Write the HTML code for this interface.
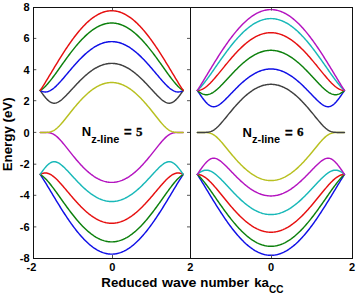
<!DOCTYPE html>
<html><head><meta charset="utf-8"><style>
html,body{margin:0;padding:0;background:#fff;}
svg{display:block;}
text{font-family:"Liberation Sans",sans-serif;font-weight:bold;fill:#000;}
</style></head><body>
<svg width="357" height="297" viewBox="0 0 357 297">
<rect width="357" height="297" fill="#fff"/>
<g fill="none" stroke-width="1.45" stroke-linejoin="round" stroke-linecap="round">
<polyline points="40.20,174.43 40.99,175.63 41.79,176.85 42.58,178.08 43.38,179.34 44.17,180.61 44.97,181.89 45.76,183.18 46.56,184.48 47.35,185.79 48.14,187.10 48.94,188.41 49.73,189.73 50.53,191.06 51.32,192.38 52.12,193.70 52.91,195.02 53.71,196.34 54.50,197.66 55.29,198.98 56.09,200.29 56.88,201.59 57.68,202.89 58.47,204.18 59.27,205.47 60.06,206.75 60.86,208.02 61.65,209.28 62.44,210.53 63.24,211.78 64.03,213.01 64.83,214.23 65.62,215.44 66.42,216.64 67.21,217.83 68.01,219.00 68.80,220.16 69.59,221.31 70.39,222.44 71.18,223.56 71.98,224.66 72.77,225.75 73.57,226.82 74.36,227.88 75.16,228.92 75.95,229.94 76.74,230.95 77.54,231.93 78.33,232.90 79.13,233.86 79.92,234.79 80.72,235.70 81.51,236.60 82.31,237.48 83.10,238.33 83.89,239.17 84.69,239.99 85.48,240.78 86.28,241.56 87.07,242.31 87.87,243.04 88.66,243.75 89.46,244.44 90.25,245.11 91.04,245.75 91.84,246.37 92.63,246.97 93.43,247.55 94.22,248.10 95.02,248.63 95.81,249.13 96.61,249.62 97.40,250.08 98.19,250.51 98.99,250.92 99.78,251.31 100.58,251.67 101.37,252.01 102.17,252.32 102.96,252.61 103.76,252.87 104.55,253.11 105.34,253.32 106.14,253.51 106.93,253.68 107.73,253.82 108.52,253.93 109.32,254.02 110.11,254.08 110.91,254.12 111.70,254.13 112.49,254.12 113.29,254.08 114.08,254.02 114.88,253.93 115.67,253.82 116.47,253.68 117.26,253.51 118.06,253.32 118.85,253.11 119.64,252.87 120.44,252.61 121.23,252.32 122.03,252.01 122.82,251.67 123.62,251.31 124.41,250.92 125.21,250.51 126.00,250.08 126.79,249.62 127.59,249.13 128.38,248.63 129.18,248.10 129.97,247.55 130.77,246.97 131.56,246.37 132.36,245.75 133.15,245.11 133.94,244.44 134.74,243.75 135.53,243.04 136.33,242.31 137.12,241.56 137.92,240.78 138.71,239.99 139.51,239.17 140.30,238.33 141.09,237.48 141.89,236.60 142.68,235.70 143.48,234.79 144.27,233.86 145.07,232.90 145.86,231.93 146.66,230.95 147.45,229.94 148.24,228.92 149.04,227.88 149.83,226.82 150.63,225.75 151.42,224.66 152.22,223.56 153.01,222.44 153.81,221.31 154.60,220.16 155.39,219.00 156.19,217.83 156.98,216.64 157.78,215.44 158.57,214.23 159.37,213.01 160.16,211.78 160.96,210.53 161.75,209.28 162.54,208.02 163.34,206.75 164.13,205.47 164.93,204.18 165.72,202.89 166.52,201.59 167.31,200.29 168.11,198.98 168.90,197.66 169.69,196.34 170.49,195.02 171.28,193.70 172.08,192.38 172.87,191.06 173.67,189.73 174.46,188.41 175.26,187.10 176.05,185.79 176.84,184.48 177.64,183.18 178.43,181.89 179.23,180.61 180.02,179.34 180.82,178.08 181.61,176.85 182.41,175.63 183.20,174.43" stroke="#1010e6"/>
<polyline points="40.20,174.43 40.99,174.91 41.79,175.46 42.58,176.07 43.38,176.72 44.17,177.43 44.97,178.19 45.76,178.99 46.56,179.83 47.35,180.71 48.14,181.62 48.94,182.56 49.73,183.53 50.53,184.52 51.32,185.53 52.12,186.57 52.91,187.62 53.71,188.68 54.50,189.76 55.29,190.84 56.09,191.94 56.88,193.04 57.68,194.15 58.47,195.27 59.27,196.39 60.06,197.50 60.86,198.62 61.65,199.74 62.44,200.86 63.24,201.97 64.03,203.08 64.83,204.19 65.62,205.29 66.42,206.38 67.21,207.47 68.01,208.54 68.80,209.61 69.59,210.67 70.39,211.72 71.18,212.76 71.98,213.79 72.77,214.81 73.57,215.81 74.36,216.80 75.16,217.78 75.95,218.74 76.74,219.69 77.54,220.62 78.33,221.54 79.13,222.44 79.92,223.33 80.72,224.19 81.51,225.05 82.31,225.88 83.10,226.70 83.89,227.49 84.69,228.27 85.48,229.03 86.28,229.77 87.07,230.49 87.87,231.20 88.66,231.88 89.46,232.54 90.25,233.18 91.04,233.80 91.84,234.39 92.63,234.97 93.43,235.52 94.22,236.05 95.02,236.56 95.81,237.05 96.61,237.52 97.40,237.96 98.19,238.38 98.99,238.78 99.78,239.15 100.58,239.50 101.37,239.82 102.17,240.13 102.96,240.40 103.76,240.66 104.55,240.89 105.34,241.10 106.14,241.28 106.93,241.44 107.73,241.57 108.52,241.68 109.32,241.77 110.11,241.83 110.91,241.86 111.70,241.88 112.49,241.86 113.29,241.83 114.08,241.77 114.88,241.68 115.67,241.57 116.47,241.44 117.26,241.28 118.06,241.10 118.85,240.89 119.64,240.66 120.44,240.40 121.23,240.13 122.03,239.82 122.82,239.50 123.62,239.15 124.41,238.78 125.21,238.38 126.00,237.96 126.79,237.52 127.59,237.05 128.38,236.56 129.18,236.05 129.97,235.52 130.77,234.97 131.56,234.39 132.36,233.80 133.15,233.18 133.94,232.54 134.74,231.88 135.53,231.20 136.33,230.49 137.12,229.77 137.92,229.03 138.71,228.27 139.51,227.49 140.30,226.70 141.09,225.88 141.89,225.05 142.68,224.19 143.48,223.33 144.27,222.44 145.07,221.54 145.86,220.62 146.66,219.69 147.45,218.74 148.24,217.78 149.04,216.80 149.83,215.81 150.63,214.81 151.42,213.79 152.22,212.76 153.01,211.72 153.81,210.67 154.60,209.61 155.39,208.54 156.19,207.47 156.98,206.38 157.78,205.29 158.57,204.19 159.37,203.08 160.16,201.97 160.96,200.86 161.75,199.74 162.54,198.62 163.34,197.50 164.13,196.39 164.93,195.27 165.72,194.15 166.52,193.04 167.31,191.94 168.11,190.84 168.90,189.76 169.69,188.68 170.49,187.62 171.28,186.57 172.08,185.53 172.87,184.52 173.67,183.53 174.46,182.56 175.26,181.62 176.05,180.71 176.84,179.83 177.64,178.99 178.43,178.19 179.23,177.43 180.02,176.72 180.82,176.07 181.61,175.46 182.41,174.91 183.20,174.43" stroke="#0c800c"/>
<polyline points="40.20,174.43 40.99,174.01 41.79,173.66 42.58,173.37 43.38,173.16 44.17,173.03 44.97,172.96 45.76,172.97 46.56,173.05 47.35,173.21 48.14,173.43 48.94,173.72 49.73,174.08 50.53,174.49 51.32,174.97 52.12,175.49 52.91,176.07 53.71,176.69 54.50,177.35 55.29,178.06 56.09,178.79 56.88,179.56 57.68,180.36 58.47,181.19 59.27,182.03 60.06,182.90 60.86,183.78 61.65,184.67 62.44,185.58 63.24,186.50 64.03,187.43 64.83,188.37 65.62,189.31 66.42,190.25 67.21,191.19 68.01,192.14 68.80,193.08 69.59,194.02 70.39,194.96 71.18,195.90 71.98,196.82 72.77,197.75 73.57,198.66 74.36,199.57 75.16,200.46 75.95,201.35 76.74,202.23 77.54,203.09 78.33,203.95 79.13,204.79 79.92,205.61 80.72,206.43 81.51,207.23 82.31,208.01 83.10,208.78 83.89,209.53 84.69,210.27 85.48,210.99 86.28,211.69 87.07,212.38 87.87,213.04 88.66,213.69 89.46,214.32 90.25,214.93 91.04,215.52 91.84,216.09 92.63,216.64 93.43,217.17 94.22,217.68 95.02,218.17 95.81,218.64 96.61,219.08 97.40,219.51 98.19,219.91 98.99,220.29 99.78,220.65 100.58,220.99 101.37,221.30 102.17,221.59 102.96,221.86 103.76,222.10 104.55,222.33 105.34,222.52 106.14,222.70 106.93,222.85 107.73,222.98 108.52,223.09 109.32,223.17 110.11,223.23 110.91,223.27 111.70,223.28 112.49,223.27 113.29,223.23 114.08,223.17 114.88,223.09 115.67,222.98 116.47,222.85 117.26,222.70 118.06,222.52 118.85,222.33 119.64,222.10 120.44,221.86 121.23,221.59 122.03,221.30 122.82,220.99 123.62,220.65 124.41,220.29 125.21,219.91 126.00,219.51 126.79,219.08 127.59,218.64 128.38,218.17 129.18,217.68 129.97,217.17 130.77,216.64 131.56,216.09 132.36,215.52 133.15,214.93 133.94,214.32 134.74,213.69 135.53,213.04 136.33,212.38 137.12,211.69 137.92,210.99 138.71,210.27 139.51,209.53 140.30,208.78 141.09,208.01 141.89,207.23 142.68,206.43 143.48,205.61 144.27,204.79 145.07,203.95 145.86,203.09 146.66,202.23 147.45,201.35 148.24,200.46 149.04,199.57 149.83,198.66 150.63,197.75 151.42,196.82 152.22,195.90 153.01,194.96 153.81,194.02 154.60,193.08 155.39,192.14 156.19,191.19 156.98,190.25 157.78,189.31 158.57,188.37 159.37,187.43 160.16,186.50 160.96,185.58 161.75,184.67 162.54,183.78 163.34,182.90 164.13,182.03 164.93,181.19 165.72,180.36 166.52,179.56 167.31,178.79 168.11,178.06 168.90,177.35 169.69,176.69 170.49,176.07 171.28,175.49 172.08,174.97 172.87,174.49 173.67,174.08 174.46,173.72 175.26,173.43 176.05,173.21 176.84,173.05 177.64,172.97 178.43,172.96 179.23,173.03 180.02,173.16 180.82,173.37 181.61,173.66 182.41,174.01 183.20,174.43" stroke="#e61010"/>
<polyline points="40.20,174.43 40.99,173.26 41.79,172.11 42.58,171.00 43.38,169.92 44.17,168.89 44.97,167.90 45.76,166.96 46.56,166.08 47.35,165.26 48.14,164.52 48.94,163.85 49.73,163.26 50.53,162.76 51.32,162.35 52.12,162.05 52.91,161.83 53.71,161.72 54.50,161.71 55.29,161.79 56.09,161.96 56.88,162.22 57.68,162.56 58.47,162.96 59.27,163.44 60.06,163.97 60.86,164.56 61.65,165.20 62.44,165.87 63.24,166.59 64.03,167.33 64.83,168.10 65.62,168.89 66.42,169.70 67.21,170.53 68.01,171.37 68.80,172.22 69.59,173.07 70.39,173.94 71.18,174.80 71.98,175.67 72.77,176.53 73.57,177.40 74.36,178.26 75.16,179.11 75.95,179.96 76.74,180.81 77.54,181.64 78.33,182.47 79.13,183.28 79.92,184.09 80.72,184.88 81.51,185.66 82.31,186.43 83.10,187.18 83.89,187.92 84.69,188.64 85.48,189.35 86.28,190.04 87.07,190.71 87.87,191.37 88.66,192.01 89.46,192.63 90.25,193.23 91.04,193.82 91.84,194.38 92.63,194.93 93.43,195.45 94.22,195.96 95.02,196.44 95.81,196.91 96.61,197.35 97.40,197.77 98.19,198.17 98.99,198.55 99.78,198.90 100.58,199.24 101.37,199.55 102.17,199.84 102.96,200.11 103.76,200.35 104.55,200.57 105.34,200.77 106.14,200.95 106.93,201.10 107.73,201.23 108.52,201.33 109.32,201.41 110.11,201.47 110.91,201.51 111.70,201.52 112.49,201.51 113.29,201.47 114.08,201.41 114.88,201.33 115.67,201.23 116.47,201.10 117.26,200.95 118.06,200.77 118.85,200.57 119.64,200.35 120.44,200.11 121.23,199.84 122.03,199.55 122.82,199.24 123.62,198.90 124.41,198.55 125.21,198.17 126.00,197.77 126.79,197.35 127.59,196.91 128.38,196.44 129.18,195.96 129.97,195.45 130.77,194.93 131.56,194.38 132.36,193.82 133.15,193.23 133.94,192.63 134.74,192.01 135.53,191.37 136.33,190.71 137.12,190.04 137.92,189.35 138.71,188.64 139.51,187.92 140.30,187.18 141.09,186.43 141.89,185.66 142.68,184.88 143.48,184.09 144.27,183.28 145.07,182.47 145.86,181.64 146.66,180.81 147.45,179.96 148.24,179.11 149.04,178.26 149.83,177.40 150.63,176.53 151.42,175.67 152.22,174.80 153.01,173.94 153.81,173.07 154.60,172.22 155.39,171.37 156.19,170.53 156.98,169.70 157.78,168.89 158.57,168.10 159.37,167.33 160.16,166.59 160.96,165.87 161.75,165.20 162.54,164.56 163.34,163.97 164.13,163.44 164.93,162.96 165.72,162.56 166.52,162.22 167.31,161.96 168.11,161.79 168.90,161.71 169.69,161.72 170.49,161.83 171.28,162.05 172.08,162.35 172.87,162.76 173.67,163.26 174.46,163.85 175.26,164.52 176.05,165.26 176.84,166.08 177.64,166.96 178.43,167.90 179.23,168.89 180.02,169.92 180.82,171.00 181.61,172.11 182.41,173.26 183.20,174.43" stroke="#18b8b8"/>
<polyline points="40.20,132.45 40.99,132.45 41.79,132.45 42.58,132.45 43.38,132.45 44.17,132.46 44.97,132.47 45.76,132.48 46.56,132.51 47.35,132.56 48.14,132.64 48.94,132.74 49.73,132.88 50.53,133.07 51.32,133.30 52.12,133.60 52.91,133.95 53.71,134.37 54.50,134.84 55.29,135.39 56.09,135.99 56.88,136.65 57.68,137.36 58.47,138.12 59.27,138.92 60.06,139.77 60.86,140.64 61.65,141.55 62.44,142.48 63.24,143.43 64.03,144.40 64.83,145.38 65.62,146.37 66.42,147.37 67.21,148.37 68.01,149.38 68.80,150.39 69.59,151.39 70.39,152.40 71.18,153.40 71.98,154.39 72.77,155.38 73.57,156.35 74.36,157.32 75.16,158.28 75.95,159.23 76.74,160.17 77.54,161.09 78.33,162.00 79.13,162.89 79.92,163.77 80.72,164.64 81.51,165.49 82.31,166.32 83.10,167.14 83.89,167.93 84.69,168.71 85.48,169.47 86.28,170.22 87.07,170.94 87.87,171.64 88.66,172.33 89.46,172.99 90.25,173.63 91.04,174.26 91.84,174.86 92.63,175.44 93.43,175.99 94.22,176.53 95.02,177.04 95.81,177.53 96.61,178.00 97.40,178.45 98.19,178.87 98.99,179.27 99.78,179.65 100.58,180.00 101.37,180.33 102.17,180.63 102.96,180.91 103.76,181.17 104.55,181.40 105.34,181.61 106.14,181.79 106.93,181.95 107.73,182.09 108.52,182.20 109.32,182.29 110.11,182.35 110.91,182.38 111.70,182.40 112.49,182.38 113.29,182.35 114.08,182.29 114.88,182.20 115.67,182.09 116.47,181.95 117.26,181.79 118.06,181.61 118.85,181.40 119.64,181.17 120.44,180.91 121.23,180.63 122.03,180.33 122.82,180.00 123.62,179.65 124.41,179.27 125.21,178.87 126.00,178.45 126.79,178.00 127.59,177.53 128.38,177.04 129.18,176.53 129.97,175.99 130.77,175.44 131.56,174.86 132.36,174.26 133.15,173.63 133.94,172.99 134.74,172.33 135.53,171.64 136.33,170.94 137.12,170.22 137.92,169.47 138.71,168.71 139.51,167.93 140.30,167.14 141.09,166.32 141.89,165.49 142.68,164.64 143.48,163.77 144.27,162.89 145.07,162.00 145.86,161.09 146.66,160.17 147.45,159.23 148.24,158.28 149.04,157.32 149.83,156.35 150.63,155.38 151.42,154.39 152.22,153.40 153.01,152.40 153.81,151.39 154.60,150.39 155.39,149.38 156.19,148.37 156.98,147.37 157.78,146.37 158.57,145.38 159.37,144.40 160.16,143.43 160.96,142.48 161.75,141.55 162.54,140.64 163.34,139.77 164.13,138.92 164.93,138.12 165.72,137.36 166.52,136.65 167.31,135.99 168.11,135.39 168.90,134.84 169.69,134.37 170.49,133.95 171.28,133.60 172.08,133.30 172.87,133.07 173.67,132.88 174.46,132.74 175.26,132.64 176.05,132.56 176.84,132.51 177.64,132.48 178.43,132.47 179.23,132.46 180.02,132.45 180.82,132.45 181.61,132.45 182.41,132.45 183.20,132.45" stroke="#b414c0"/>
<polyline points="40.20,132.45 40.99,132.45 41.79,132.45 42.58,132.45 43.38,132.45 44.17,132.44 44.97,132.43 45.76,132.42 46.56,132.39 47.35,132.34 48.14,132.26 48.94,132.16 49.73,132.02 50.53,131.83 51.32,131.60 52.12,131.30 52.91,130.95 53.71,130.53 54.50,130.06 55.29,129.51 56.09,128.91 56.88,128.25 57.68,127.54 58.47,126.78 59.27,125.98 60.06,125.13 60.86,124.26 61.65,123.35 62.44,122.42 63.24,121.47 64.03,120.50 64.83,119.52 65.62,118.53 66.42,117.53 67.21,116.53 68.01,115.52 68.80,114.51 69.59,113.51 70.39,112.50 71.18,111.50 71.98,110.51 72.77,109.52 73.57,108.55 74.36,107.58 75.16,106.62 75.95,105.67 76.74,104.73 77.54,103.81 78.33,102.90 79.13,102.01 79.92,101.13 80.72,100.26 81.51,99.41 82.31,98.58 83.10,97.76 83.89,96.97 84.69,96.19 85.48,95.43 86.28,94.68 87.07,93.96 87.87,93.26 88.66,92.57 89.46,91.91 90.25,91.27 91.04,90.64 91.84,90.04 92.63,89.46 93.43,88.91 94.22,88.37 95.02,87.86 95.81,87.37 96.61,86.90 97.40,86.45 98.19,86.03 98.99,85.63 99.78,85.25 100.58,84.90 101.37,84.57 102.17,84.27 102.96,83.99 103.76,83.73 104.55,83.50 105.34,83.29 106.14,83.11 106.93,82.95 107.73,82.81 108.52,82.70 109.32,82.61 110.11,82.55 110.91,82.52 111.70,82.50 112.49,82.52 113.29,82.55 114.08,82.61 114.88,82.70 115.67,82.81 116.47,82.95 117.26,83.11 118.06,83.29 118.85,83.50 119.64,83.73 120.44,83.99 121.23,84.27 122.03,84.57 122.82,84.90 123.62,85.25 124.41,85.63 125.21,86.03 126.00,86.45 126.79,86.90 127.59,87.37 128.38,87.86 129.18,88.37 129.97,88.91 130.77,89.46 131.56,90.04 132.36,90.64 133.15,91.27 133.94,91.91 134.74,92.57 135.53,93.26 136.33,93.96 137.12,94.68 137.92,95.43 138.71,96.19 139.51,96.97 140.30,97.76 141.09,98.58 141.89,99.41 142.68,100.26 143.48,101.13 144.27,102.01 145.07,102.90 145.86,103.81 146.66,104.73 147.45,105.67 148.24,106.62 149.04,107.58 149.83,108.55 150.63,109.52 151.42,110.51 152.22,111.50 153.01,112.50 153.81,113.51 154.60,114.51 155.39,115.52 156.19,116.53 156.98,117.53 157.78,118.53 158.57,119.52 159.37,120.50 160.16,121.47 160.96,122.42 161.75,123.35 162.54,124.26 163.34,125.13 164.13,125.98 164.93,126.78 165.72,127.54 166.52,128.25 167.31,128.91 168.11,129.51 168.90,130.06 169.69,130.53 170.49,130.95 171.28,131.30 172.08,131.60 172.87,131.83 173.67,132.02 174.46,132.16 175.26,132.26 176.05,132.34 176.84,132.39 177.64,132.42 178.43,132.43 179.23,132.44 180.02,132.45 180.82,132.45 181.61,132.45 182.41,132.45 183.20,132.45" stroke="#b8c020"/>
<polyline points="40.20,90.47 40.99,91.64 41.79,92.79 42.58,93.90 43.38,94.98 44.17,96.01 44.97,97.00 45.76,97.94 46.56,98.82 47.35,99.64 48.14,100.38 48.94,101.05 49.73,101.64 50.53,102.14 51.32,102.55 52.12,102.85 52.91,103.07 53.71,103.18 54.50,103.19 55.29,103.11 56.09,102.94 56.88,102.68 57.68,102.34 58.47,101.94 59.27,101.46 60.06,100.93 60.86,100.34 61.65,99.70 62.44,99.03 63.24,98.31 64.03,97.57 64.83,96.80 65.62,96.01 66.42,95.20 67.21,94.37 68.01,93.53 68.80,92.68 69.59,91.83 70.39,90.96 71.18,90.10 71.98,89.23 72.77,88.37 73.57,87.50 74.36,86.64 75.16,85.79 75.95,84.94 76.74,84.09 77.54,83.26 78.33,82.43 79.13,81.62 79.92,80.81 80.72,80.02 81.51,79.24 82.31,78.47 83.10,77.72 83.89,76.98 84.69,76.26 85.48,75.55 86.28,74.86 87.07,74.19 87.87,73.53 88.66,72.89 89.46,72.27 90.25,71.67 91.04,71.08 91.84,70.52 92.63,69.97 93.43,69.45 94.22,68.94 95.02,68.46 95.81,67.99 96.61,67.55 97.40,67.13 98.19,66.73 98.99,66.35 99.78,66.00 100.58,65.66 101.37,65.35 102.17,65.06 102.96,64.79 103.76,64.55 104.55,64.33 105.34,64.13 106.14,63.95 106.93,63.80 107.73,63.67 108.52,63.57 109.32,63.49 110.11,63.43 110.91,63.39 111.70,63.38 112.49,63.39 113.29,63.43 114.08,63.49 114.88,63.57 115.67,63.67 116.47,63.80 117.26,63.95 118.06,64.13 118.85,64.33 119.64,64.55 120.44,64.79 121.23,65.06 122.03,65.35 122.82,65.66 123.62,66.00 124.41,66.35 125.21,66.73 126.00,67.13 126.79,67.55 127.59,67.99 128.38,68.46 129.18,68.94 129.97,69.45 130.77,69.97 131.56,70.52 132.36,71.08 133.15,71.67 133.94,72.27 134.74,72.89 135.53,73.53 136.33,74.19 137.12,74.86 137.92,75.55 138.71,76.26 139.51,76.98 140.30,77.72 141.09,78.47 141.89,79.24 142.68,80.02 143.48,80.81 144.27,81.62 145.07,82.43 145.86,83.26 146.66,84.09 147.45,84.94 148.24,85.79 149.04,86.64 149.83,87.50 150.63,88.37 151.42,89.23 152.22,90.10 153.01,90.96 153.81,91.83 154.60,92.68 155.39,93.53 156.19,94.37 156.98,95.20 157.78,96.01 158.57,96.80 159.37,97.57 160.16,98.31 160.96,99.03 161.75,99.70 162.54,100.34 163.34,100.93 164.13,101.46 164.93,101.94 165.72,102.34 166.52,102.68 167.31,102.94 168.11,103.11 168.90,103.19 169.69,103.18 170.49,103.07 171.28,102.85 172.08,102.55 172.87,102.14 173.67,101.64 174.46,101.05 175.26,100.38 176.05,99.64 176.84,98.82 177.64,97.94 178.43,97.00 179.23,96.01 180.02,94.98 180.82,93.90 181.61,92.79 182.41,91.64 183.20,90.47" stroke="#404040"/>
<polyline points="40.20,90.47 40.99,90.89 41.79,91.24 42.58,91.53 43.38,91.74 44.17,91.87 44.97,91.94 45.76,91.93 46.56,91.85 47.35,91.69 48.14,91.47 48.94,91.18 49.73,90.82 50.53,90.41 51.32,89.93 52.12,89.41 52.91,88.83 53.71,88.21 54.50,87.55 55.29,86.84 56.09,86.11 56.88,85.34 57.68,84.54 58.47,83.71 59.27,82.87 60.06,82.00 60.86,81.12 61.65,80.23 62.44,79.32 63.24,78.40 64.03,77.47 64.83,76.53 65.62,75.59 66.42,74.65 67.21,73.71 68.01,72.76 68.80,71.82 69.59,70.88 70.39,69.94 71.18,69.00 71.98,68.08 72.77,67.15 73.57,66.24 74.36,65.33 75.16,64.44 75.95,63.55 76.74,62.67 77.54,61.81 78.33,60.95 79.13,60.11 79.92,59.29 80.72,58.47 81.51,57.67 82.31,56.89 83.10,56.12 83.89,55.37 84.69,54.63 85.48,53.91 86.28,53.21 87.07,52.52 87.87,51.86 88.66,51.21 89.46,50.58 90.25,49.97 91.04,49.38 91.84,48.81 92.63,48.26 93.43,47.73 94.22,47.22 95.02,46.73 95.81,46.26 96.61,45.82 97.40,45.39 98.19,44.99 98.99,44.61 99.78,44.25 100.58,43.91 101.37,43.60 102.17,43.31 102.96,43.04 103.76,42.80 104.55,42.57 105.34,42.38 106.14,42.20 106.93,42.05 107.73,41.92 108.52,41.81 109.32,41.73 110.11,41.67 110.91,41.63 111.70,41.62 112.49,41.63 113.29,41.67 114.08,41.73 114.88,41.81 115.67,41.92 116.47,42.05 117.26,42.20 118.06,42.38 118.85,42.57 119.64,42.80 120.44,43.04 121.23,43.31 122.03,43.60 122.82,43.91 123.62,44.25 124.41,44.61 125.21,44.99 126.00,45.39 126.79,45.82 127.59,46.26 128.38,46.73 129.18,47.22 129.97,47.73 130.77,48.26 131.56,48.81 132.36,49.38 133.15,49.97 133.94,50.58 134.74,51.21 135.53,51.86 136.33,52.52 137.12,53.21 137.92,53.91 138.71,54.63 139.51,55.37 140.30,56.12 141.09,56.89 141.89,57.67 142.68,58.47 143.48,59.29 144.27,60.11 145.07,60.95 145.86,61.81 146.66,62.67 147.45,63.55 148.24,64.44 149.04,65.33 149.83,66.24 150.63,67.15 151.42,68.08 152.22,69.00 153.01,69.94 153.81,70.88 154.60,71.82 155.39,72.76 156.19,73.71 156.98,74.65 157.78,75.59 158.57,76.53 159.37,77.47 160.16,78.40 160.96,79.32 161.75,80.23 162.54,81.12 163.34,82.00 164.13,82.87 164.93,83.71 165.72,84.54 166.52,85.34 167.31,86.11 168.11,86.84 168.90,87.55 169.69,88.21 170.49,88.83 171.28,89.41 172.08,89.93 172.87,90.41 173.67,90.82 174.46,91.18 175.26,91.47 176.05,91.69 176.84,91.85 177.64,91.93 178.43,91.94 179.23,91.87 180.02,91.74 180.82,91.53 181.61,91.24 182.41,90.89 183.20,90.47" stroke="#1010e6"/>
<polyline points="40.20,90.47 40.99,89.99 41.79,89.44 42.58,88.83 43.38,88.18 44.17,87.47 44.97,86.71 45.76,85.91 46.56,85.07 47.35,84.19 48.14,83.28 48.94,82.34 49.73,81.37 50.53,80.38 51.32,79.37 52.12,78.33 52.91,77.28 53.71,76.22 54.50,75.14 55.29,74.06 56.09,72.96 56.88,71.86 57.68,70.75 58.47,69.63 59.27,68.51 60.06,67.40 60.86,66.28 61.65,65.16 62.44,64.04 63.24,62.93 64.03,61.82 64.83,60.71 65.62,59.61 66.42,58.52 67.21,57.43 68.01,56.36 68.80,55.29 69.59,54.23 70.39,53.18 71.18,52.14 71.98,51.11 72.77,50.09 73.57,49.09 74.36,48.10 75.16,47.12 75.95,46.16 76.74,45.21 77.54,44.28 78.33,43.36 79.13,42.46 79.92,41.57 80.72,40.71 81.51,39.85 82.31,39.02 83.10,38.20 83.89,37.41 84.69,36.63 85.48,35.87 86.28,35.13 87.07,34.41 87.87,33.70 88.66,33.02 89.46,32.36 90.25,31.72 91.04,31.10 91.84,30.51 92.63,29.93 93.43,29.38 94.22,28.85 95.02,28.34 95.81,27.85 96.61,27.38 97.40,26.94 98.19,26.52 98.99,26.12 99.78,25.75 100.58,25.40 101.37,25.08 102.17,24.77 102.96,24.50 103.76,24.24 104.55,24.01 105.34,23.80 106.14,23.62 106.93,23.46 107.73,23.33 108.52,23.22 109.32,23.13 110.11,23.07 110.91,23.04 111.70,23.02 112.49,23.04 113.29,23.07 114.08,23.13 114.88,23.22 115.67,23.33 116.47,23.46 117.26,23.62 118.06,23.80 118.85,24.01 119.64,24.24 120.44,24.50 121.23,24.77 122.03,25.08 122.82,25.40 123.62,25.75 124.41,26.12 125.21,26.52 126.00,26.94 126.79,27.38 127.59,27.85 128.38,28.34 129.18,28.85 129.97,29.38 130.77,29.93 131.56,30.51 132.36,31.10 133.15,31.72 133.94,32.36 134.74,33.02 135.53,33.70 136.33,34.41 137.12,35.13 137.92,35.87 138.71,36.63 139.51,37.41 140.30,38.20 141.09,39.02 141.89,39.85 142.68,40.71 143.48,41.57 144.27,42.46 145.07,43.36 145.86,44.28 146.66,45.21 147.45,46.16 148.24,47.12 149.04,48.10 149.83,49.09 150.63,50.09 151.42,51.11 152.22,52.14 153.01,53.18 153.81,54.23 154.60,55.29 155.39,56.36 156.19,57.43 156.98,58.52 157.78,59.61 158.57,60.71 159.37,61.82 160.16,62.93 160.96,64.04 161.75,65.16 162.54,66.28 163.34,67.40 164.13,68.51 164.93,69.63 165.72,70.75 166.52,71.86 167.31,72.96 168.11,74.06 168.90,75.14 169.69,76.22 170.49,77.28 171.28,78.33 172.08,79.37 172.87,80.38 173.67,81.37 174.46,82.34 175.26,83.28 176.05,84.19 176.84,85.07 177.64,85.91 178.43,86.71 179.23,87.47 180.02,88.18 180.82,88.83 181.61,89.44 182.41,89.99 183.20,90.47" stroke="#0c800c"/>
<polyline points="40.20,90.47 40.99,89.27 41.79,88.05 42.58,86.82 43.38,85.56 44.17,84.29 44.97,83.01 45.76,81.72 46.56,80.42 47.35,79.11 48.14,77.80 48.94,76.49 49.73,75.17 50.53,73.84 51.32,72.52 52.12,71.20 52.91,69.88 53.71,68.56 54.50,67.24 55.29,65.92 56.09,64.61 56.88,63.31 57.68,62.01 58.47,60.72 59.27,59.43 60.06,58.15 60.86,56.88 61.65,55.62 62.44,54.37 63.24,53.12 64.03,51.89 64.83,50.67 65.62,49.46 66.42,48.26 67.21,47.07 68.01,45.90 68.80,44.74 69.59,43.59 70.39,42.46 71.18,41.34 71.98,40.24 72.77,39.15 73.57,38.08 74.36,37.02 75.16,35.98 75.95,34.96 76.74,33.95 77.54,32.97 78.33,32.00 79.13,31.04 79.92,30.11 80.72,29.20 81.51,28.30 82.31,27.42 83.10,26.57 83.89,25.73 84.69,24.91 85.48,24.12 86.28,23.34 87.07,22.59 87.87,21.86 88.66,21.15 89.46,20.46 90.25,19.79 91.04,19.15 91.84,18.53 92.63,17.93 93.43,17.35 94.22,16.80 95.02,16.27 95.81,15.77 96.61,15.28 97.40,14.82 98.19,14.39 98.99,13.98 99.78,13.59 100.58,13.23 101.37,12.89 102.17,12.58 102.96,12.29 103.76,12.03 104.55,11.79 105.34,11.58 106.14,11.39 106.93,11.22 107.73,11.08 108.52,10.97 109.32,10.88 110.11,10.82 110.91,10.78 111.70,10.77 112.49,10.78 113.29,10.82 114.08,10.88 114.88,10.97 115.67,11.08 116.47,11.22 117.26,11.39 118.06,11.58 118.85,11.79 119.64,12.03 120.44,12.29 121.23,12.58 122.03,12.89 122.82,13.23 123.62,13.59 124.41,13.98 125.21,14.39 126.00,14.82 126.79,15.28 127.59,15.77 128.38,16.27 129.18,16.80 129.97,17.35 130.77,17.93 131.56,18.53 132.36,19.15 133.15,19.79 133.94,20.46 134.74,21.15 135.53,21.86 136.33,22.59 137.12,23.34 137.92,24.12 138.71,24.91 139.51,25.73 140.30,26.57 141.09,27.42 141.89,28.30 142.68,29.20 143.48,30.11 144.27,31.04 145.07,32.00 145.86,32.97 146.66,33.95 147.45,34.96 148.24,35.98 149.04,37.02 149.83,38.08 150.63,39.15 151.42,40.24 152.22,41.34 153.01,42.46 153.81,43.59 154.60,44.74 155.39,45.90 156.19,47.07 156.98,48.26 157.78,49.46 158.57,50.67 159.37,51.89 160.16,53.12 160.96,54.37 161.75,55.62 162.54,56.88 163.34,58.15 164.13,59.43 164.93,60.72 165.72,62.01 166.52,63.31 167.31,64.61 168.11,65.92 168.90,67.24 169.69,68.56 170.49,69.88 171.28,71.20 172.08,72.52 172.87,73.84 173.67,75.17 174.46,76.49 175.26,77.80 176.05,79.11 176.84,80.42 177.64,81.72 178.43,83.01 179.23,84.29 180.02,85.56 180.82,86.82 181.61,88.05 182.41,89.27 183.20,90.47" stroke="#e61010"/>
<polyline points="197.35,174.43 198.17,175.71 198.98,177.00 199.80,178.30 200.62,179.62 201.44,180.94 202.25,182.28 203.07,183.61 203.89,184.96 204.71,186.31 205.52,187.66 206.34,189.01 207.16,190.36 207.97,191.71 208.79,193.06 209.61,194.41 210.43,195.76 211.24,197.10 212.06,198.44 212.88,199.78 213.69,201.11 214.51,202.43 215.33,203.74 216.15,205.05 216.96,206.36 217.78,207.65 218.60,208.93 219.42,210.21 220.23,211.47 221.05,212.73 221.87,213.97 222.68,215.20 223.50,216.42 224.32,217.63 225.14,218.83 225.95,220.01 226.77,221.18 227.59,222.33 228.40,223.47 229.22,224.60 230.04,225.71 230.86,226.80 231.67,227.88 232.49,228.94 233.31,229.99 234.13,231.02 234.94,232.03 235.76,233.02 236.58,234.00 237.39,234.95 238.21,235.89 239.03,236.81 239.85,237.71 240.66,238.59 241.48,239.45 242.30,240.29 243.11,241.11 243.93,241.91 244.75,242.68 245.57,243.44 246.38,244.18 247.20,244.89 248.02,245.58 248.84,246.25 249.65,246.89 250.47,247.52 251.29,248.12 252.10,248.70 252.92,249.25 253.74,249.78 254.56,250.29 255.37,250.78 256.19,251.24 257.01,251.67 257.82,252.08 258.64,252.47 259.46,252.83 260.28,253.17 261.09,253.49 261.91,253.78 262.73,254.04 263.55,254.28 264.36,254.49 265.18,254.68 266.00,254.85 266.81,254.99 267.63,255.10 268.45,255.19 269.27,255.25 270.08,255.29 270.90,255.30 271.72,255.29 272.53,255.25 273.35,255.19 274.17,255.10 274.99,254.99 275.80,254.85 276.62,254.68 277.44,254.49 278.25,254.28 279.07,254.04 279.89,253.78 280.71,253.49 281.52,253.17 282.34,252.83 283.16,252.47 283.98,252.08 284.79,251.67 285.61,251.24 286.43,250.78 287.24,250.29 288.06,249.78 288.88,249.25 289.70,248.70 290.51,248.12 291.33,247.52 292.15,246.89 292.96,246.25 293.78,245.58 294.60,244.89 295.42,244.18 296.23,243.44 297.05,242.68 297.87,241.91 298.69,241.11 299.50,240.29 300.32,239.45 301.14,238.59 301.95,237.71 302.77,236.81 303.59,235.89 304.41,234.95 305.22,234.00 306.04,233.02 306.86,232.03 307.67,231.02 308.49,229.99 309.31,228.94 310.13,227.88 310.94,226.80 311.76,225.71 312.58,224.60 313.40,223.47 314.21,222.33 315.03,221.18 315.85,220.01 316.66,218.83 317.48,217.63 318.30,216.42 319.12,215.20 319.93,213.97 320.75,212.73 321.57,211.47 322.38,210.21 323.20,208.93 324.02,207.65 324.84,206.36 325.65,205.05 326.47,203.74 327.29,202.43 328.11,201.11 328.92,199.78 329.74,198.44 330.56,197.10 331.37,195.76 332.19,194.41 333.01,193.06 333.83,191.71 334.64,190.36 335.46,189.01 336.28,187.66 337.09,186.31 337.91,184.96 338.73,183.61 339.55,182.28 340.36,180.94 341.18,179.62 342.00,178.30 342.82,177.00 343.63,175.71 344.45,174.43" stroke="#1010e6"/>
<polyline points="197.35,174.43 198.17,175.19 198.98,175.99 199.80,176.84 200.62,177.73 201.44,178.66 202.25,179.62 203.07,180.60 203.89,181.62 204.71,182.66 205.52,183.73 206.34,184.81 207.16,185.91 207.97,187.02 208.79,188.15 209.61,189.29 210.43,190.44 211.24,191.60 212.06,192.76 212.88,193.93 213.69,195.11 214.51,196.28 215.33,197.46 216.15,198.63 216.96,199.81 217.78,200.98 218.60,202.15 219.42,203.32 220.23,204.48 221.05,205.64 221.87,206.79 222.68,207.94 223.50,209.07 224.32,210.20 225.14,211.32 225.95,212.43 226.77,213.53 227.59,214.61 228.40,215.69 229.22,216.76 230.04,217.81 230.86,218.85 231.67,219.87 232.49,220.88 233.31,221.88 234.13,222.86 234.94,223.83 235.76,224.78 236.58,225.71 237.39,226.63 238.21,227.53 239.03,228.41 239.85,229.27 240.66,230.12 241.48,230.95 242.30,231.76 243.11,232.55 243.93,233.32 244.75,234.07 245.57,234.80 246.38,235.51 247.20,236.20 248.02,236.87 248.84,237.52 249.65,238.14 250.47,238.75 251.29,239.33 252.10,239.89 252.92,240.43 253.74,240.94 254.56,241.44 255.37,241.91 256.19,242.35 257.01,242.78 257.82,243.18 258.64,243.56 259.46,243.91 260.28,244.24 261.09,244.54 261.91,244.82 262.73,245.08 263.55,245.31 264.36,245.52 265.18,245.71 266.00,245.87 266.81,246.00 267.63,246.11 268.45,246.20 269.27,246.26 270.08,246.30 270.90,246.31 271.72,246.30 272.53,246.26 273.35,246.20 274.17,246.11 274.99,246.00 275.80,245.87 276.62,245.71 277.44,245.52 278.25,245.31 279.07,245.08 279.89,244.82 280.71,244.54 281.52,244.24 282.34,243.91 283.16,243.56 283.98,243.18 284.79,242.78 285.61,242.35 286.43,241.91 287.24,241.44 288.06,240.94 288.88,240.43 289.70,239.89 290.51,239.33 291.33,238.75 292.15,238.14 292.96,237.52 293.78,236.87 294.60,236.20 295.42,235.51 296.23,234.80 297.05,234.07 297.87,233.32 298.69,232.55 299.50,231.76 300.32,230.95 301.14,230.12 301.95,229.27 302.77,228.41 303.59,227.53 304.41,226.63 305.22,225.71 306.04,224.78 306.86,223.83 307.67,222.86 308.49,221.88 309.31,220.88 310.13,219.87 310.94,218.85 311.76,217.81 312.58,216.76 313.40,215.69 314.21,214.61 315.03,213.53 315.85,212.43 316.66,211.32 317.48,210.20 318.30,209.07 319.12,207.94 319.93,206.79 320.75,205.64 321.57,204.48 322.38,203.32 323.20,202.15 324.02,200.98 324.84,199.81 325.65,198.63 326.47,197.46 327.29,196.28 328.11,195.11 328.92,193.93 329.74,192.76 330.56,191.60 331.37,190.44 332.19,189.29 333.01,188.15 333.83,187.02 334.64,185.91 335.46,184.81 336.28,183.73 337.09,182.66 337.91,181.62 338.73,180.60 339.55,179.62 340.36,178.66 341.18,177.73 342.00,176.84 342.82,175.99 343.63,175.19 344.45,174.43" stroke="#0c800c"/>
<polyline points="197.35,174.43 198.17,174.46 198.98,174.57 199.80,174.73 200.62,174.97 201.44,175.27 202.25,175.63 203.07,176.05 203.89,176.53 204.71,177.06 205.52,177.64 206.34,178.26 207.16,178.93 207.97,179.65 208.79,180.40 209.61,181.18 210.43,181.99 211.24,182.84 212.06,183.70 212.88,184.60 213.69,185.51 214.51,186.44 215.33,187.38 216.15,188.34 216.96,189.32 217.78,190.30 218.60,191.29 219.42,192.28 220.23,193.28 221.05,194.29 221.87,195.29 222.68,196.30 223.50,197.31 224.32,198.31 225.14,199.32 225.95,200.32 226.77,201.31 227.59,202.30 228.40,203.28 229.22,204.26 230.04,205.22 230.86,206.18 231.67,207.13 232.49,208.07 233.31,208.99 234.13,209.91 234.94,210.81 235.76,211.70 236.58,212.58 237.39,213.44 238.21,214.29 239.03,215.12 239.85,215.94 240.66,216.74 241.48,217.52 242.30,218.29 243.11,219.04 243.93,219.77 244.75,220.49 245.57,221.19 246.38,221.86 247.20,222.52 248.02,223.16 248.84,223.78 249.65,224.38 250.47,224.96 251.29,225.52 252.10,226.05 252.92,226.57 253.74,227.07 254.56,227.54 255.37,227.99 256.19,228.42 257.01,228.83 257.82,229.21 258.64,229.58 259.46,229.92 260.28,230.24 261.09,230.53 261.91,230.80 262.73,231.05 263.55,231.27 264.36,231.48 265.18,231.65 266.00,231.81 266.81,231.94 267.63,232.05 268.45,232.13 269.27,232.19 270.08,232.22 270.90,232.24 271.72,232.22 272.53,232.19 273.35,232.13 274.17,232.05 274.99,231.94 275.80,231.81 276.62,231.65 277.44,231.48 278.25,231.27 279.07,231.05 279.89,230.80 280.71,230.53 281.52,230.24 282.34,229.92 283.16,229.58 283.98,229.21 284.79,228.83 285.61,228.42 286.43,227.99 287.24,227.54 288.06,227.07 288.88,226.57 289.70,226.05 290.51,225.52 291.33,224.96 292.15,224.38 292.96,223.78 293.78,223.16 294.60,222.52 295.42,221.86 296.23,221.19 297.05,220.49 297.87,219.77 298.69,219.04 299.50,218.29 300.32,217.52 301.14,216.74 301.95,215.94 302.77,215.12 303.59,214.29 304.41,213.44 305.22,212.58 306.04,211.70 306.86,210.81 307.67,209.91 308.49,208.99 309.31,208.07 310.13,207.13 310.94,206.18 311.76,205.22 312.58,204.26 313.40,203.28 314.21,202.30 315.03,201.31 315.85,200.32 316.66,199.32 317.48,198.31 318.30,197.31 319.12,196.30 319.93,195.29 320.75,194.29 321.57,193.28 322.38,192.28 323.20,191.29 324.02,190.30 324.84,189.32 325.65,188.34 326.47,187.38 327.29,186.44 328.11,185.51 328.92,184.60 329.74,183.70 330.56,182.84 331.37,181.99 332.19,181.18 333.01,180.40 333.83,179.65 334.64,178.93 335.46,178.26 336.28,177.64 337.09,177.06 337.91,176.53 338.73,176.05 339.55,175.63 340.36,175.27 341.18,174.97 342.00,174.73 342.82,174.57 343.63,174.46 344.45,174.43" stroke="#e61010"/>
<polyline points="197.35,174.43 198.17,173.72 198.98,173.07 199.80,172.48 200.62,171.95 201.44,171.48 202.25,171.08 203.07,170.76 203.89,170.50 204.71,170.32 205.52,170.21 206.34,170.18 207.16,170.22 207.97,170.33 208.79,170.52 209.61,170.77 210.43,171.08 211.24,171.45 212.06,171.89 212.88,172.37 213.69,172.90 214.51,173.48 215.33,174.10 216.15,174.76 216.96,175.46 217.78,176.18 218.60,176.93 219.42,177.70 220.23,178.50 221.05,179.31 221.87,180.14 222.68,180.99 223.50,181.84 224.32,182.71 225.14,183.58 225.95,184.45 226.77,185.33 227.59,186.22 228.40,187.10 229.22,187.98 230.04,188.86 230.86,189.74 231.67,190.61 232.49,191.47 233.31,192.33 234.13,193.19 234.94,194.03 235.76,194.86 236.58,195.69 237.39,196.50 238.21,197.30 239.03,198.09 239.85,198.86 240.66,199.63 241.48,200.37 242.30,201.11 243.11,201.83 243.93,202.53 244.75,203.21 245.57,203.88 246.38,204.53 247.20,205.17 248.02,205.78 248.84,206.38 249.65,206.96 250.47,207.52 251.29,208.06 252.10,208.58 252.92,209.08 253.74,209.56 254.56,210.02 255.37,210.46 256.19,210.87 257.01,211.27 257.82,211.64 258.64,212.00 259.46,212.33 260.28,212.64 261.09,212.92 261.91,213.19 262.73,213.43 263.55,213.65 264.36,213.84 265.18,214.02 266.00,214.17 266.81,214.30 267.63,214.40 268.45,214.48 269.27,214.54 270.08,214.57 270.90,214.59 271.72,214.57 272.53,214.54 273.35,214.48 274.17,214.40 274.99,214.30 275.80,214.17 276.62,214.02 277.44,213.84 278.25,213.65 279.07,213.43 279.89,213.19 280.71,212.92 281.52,212.64 282.34,212.33 283.16,212.00 283.98,211.64 284.79,211.27 285.61,210.87 286.43,210.46 287.24,210.02 288.06,209.56 288.88,209.08 289.70,208.58 290.51,208.06 291.33,207.52 292.15,206.96 292.96,206.38 293.78,205.78 294.60,205.17 295.42,204.53 296.23,203.88 297.05,203.21 297.87,202.53 298.69,201.83 299.50,201.11 300.32,200.37 301.14,199.63 301.95,198.86 302.77,198.09 303.59,197.30 304.41,196.50 305.22,195.69 306.04,194.86 306.86,194.03 307.67,193.19 308.49,192.33 309.31,191.47 310.13,190.61 310.94,189.74 311.76,188.86 312.58,187.98 313.40,187.10 314.21,186.22 315.03,185.33 315.85,184.45 316.66,183.58 317.48,182.71 318.30,181.84 319.12,180.99 319.93,180.14 320.75,179.31 321.57,178.50 322.38,177.70 323.20,176.93 324.02,176.18 324.84,175.46 325.65,174.76 326.47,174.10 327.29,173.48 328.11,172.90 328.92,172.37 329.74,171.89 330.56,171.45 331.37,171.08 332.19,170.77 333.01,170.52 333.83,170.33 334.64,170.22 335.46,170.18 336.28,170.21 337.09,170.32 337.91,170.50 338.73,170.76 339.55,171.08 340.36,171.48 341.18,171.95 342.00,172.48 342.82,173.07 343.63,173.72 344.45,174.43" stroke="#18b8b8"/>
<polyline points="197.35,174.43 198.17,173.17 198.98,171.93 199.80,170.71 200.62,169.52 201.44,168.36 202.25,167.23 203.07,166.14 203.89,165.09 204.71,164.09 205.52,163.14 206.34,162.26 207.16,161.45 207.97,160.71 208.79,160.05 209.61,159.49 210.43,159.02 211.24,158.66 212.06,158.39 212.88,158.24 213.69,158.19 214.51,158.24 215.33,158.38 216.15,158.62 216.96,158.94 217.78,159.34 218.60,159.81 219.42,160.34 220.23,160.92 221.05,161.55 221.87,162.22 222.68,162.93 223.50,163.67 224.32,164.43 225.14,165.22 225.95,166.02 226.77,166.84 227.59,167.67 228.40,168.51 229.22,169.35 230.04,170.20 230.86,171.05 231.67,171.90 232.49,172.74 233.31,173.59 234.13,174.43 234.94,175.26 235.76,176.09 236.58,176.91 237.39,177.72 238.21,178.52 239.03,179.31 239.85,180.08 240.66,180.85 241.48,181.60 242.30,182.33 243.11,183.05 243.93,183.76 244.75,184.45 245.57,185.12 246.38,185.78 247.20,186.41 248.02,187.04 248.84,187.64 249.65,188.22 250.47,188.79 251.29,189.33 252.10,189.86 252.92,190.36 253.74,190.85 254.56,191.31 255.37,191.75 256.19,192.17 257.01,192.57 257.82,192.95 258.64,193.31 259.46,193.64 260.28,193.95 261.09,194.24 261.91,194.51 262.73,194.75 263.55,194.98 264.36,195.17 265.18,195.35 266.00,195.50 266.81,195.63 267.63,195.74 268.45,195.82 269.27,195.88 270.08,195.91 270.90,195.92 271.72,195.91 272.53,195.88 273.35,195.82 274.17,195.74 274.99,195.63 275.80,195.50 276.62,195.35 277.44,195.17 278.25,194.98 279.07,194.75 279.89,194.51 280.71,194.24 281.52,193.95 282.34,193.64 283.16,193.31 283.98,192.95 284.79,192.57 285.61,192.17 286.43,191.75 287.24,191.31 288.06,190.85 288.88,190.36 289.70,189.86 290.51,189.33 291.33,188.79 292.15,188.22 292.96,187.64 293.78,187.04 294.60,186.41 295.42,185.78 296.23,185.12 297.05,184.45 297.87,183.76 298.69,183.05 299.50,182.33 300.32,181.60 301.14,180.85 301.95,180.08 302.77,179.31 303.59,178.52 304.41,177.72 305.22,176.91 306.04,176.09 306.86,175.26 307.67,174.43 308.49,173.59 309.31,172.74 310.13,171.90 310.94,171.05 311.76,170.20 312.58,169.35 313.40,168.51 314.21,167.67 315.03,166.84 315.85,166.02 316.66,165.22 317.48,164.43 318.30,163.67 319.12,162.93 319.93,162.22 320.75,161.55 321.57,160.92 322.38,160.34 323.20,159.81 324.02,159.34 324.84,158.94 325.65,158.62 326.47,158.38 327.29,158.24 328.11,158.19 328.92,158.24 329.74,158.39 330.56,158.66 331.37,159.02 332.19,159.49 333.01,160.05 333.83,160.71 334.64,161.45 335.46,162.26 336.28,163.14 337.09,164.09 337.91,165.09 338.73,166.14 339.55,167.23 340.36,168.36 341.18,169.52 342.00,170.71 342.82,171.93 343.63,173.17 344.45,174.43" stroke="#b414c0"/>
<polyline points="197.35,132.45 198.17,132.45 198.98,132.45 199.80,132.45 200.62,132.45 201.44,132.45 202.25,132.45 203.07,132.46 203.89,132.47 204.71,132.49 205.52,132.51 206.34,132.56 207.16,132.63 207.97,132.73 208.79,132.86 209.61,133.04 210.43,133.27 211.24,133.56 212.06,133.91 212.88,134.33 213.69,134.81 214.51,135.36 215.33,135.97 216.15,136.64 216.96,137.37 217.78,138.14 218.60,138.96 219.42,139.82 220.23,140.71 221.05,141.63 221.87,142.57 222.68,143.53 223.50,144.50 224.32,145.49 225.14,146.48 225.95,147.48 226.77,148.48 227.59,149.49 228.40,150.49 229.22,151.49 230.04,152.48 230.86,153.47 231.67,154.45 232.49,155.42 233.31,156.38 234.13,157.33 234.94,158.27 235.76,159.19 236.58,160.11 237.39,161.00 238.21,161.89 239.03,162.76 239.85,163.61 240.66,164.44 241.48,165.26 242.30,166.06 243.11,166.85 243.93,167.61 244.75,168.36 245.57,169.08 246.38,169.79 247.20,170.48 248.02,171.14 248.84,171.79 249.65,172.41 250.47,173.02 251.29,173.60 252.10,174.16 252.92,174.70 253.74,175.21 254.56,175.70 255.37,176.17 256.19,176.62 257.01,177.05 257.82,177.45 258.64,177.82 259.46,178.18 260.28,178.51 261.09,178.81 261.91,179.10 262.73,179.35 263.55,179.59 264.36,179.80 265.18,179.98 266.00,180.14 266.81,180.28 267.63,180.39 268.45,180.47 269.27,180.54 270.08,180.57 270.90,180.59 271.72,180.57 272.53,180.54 273.35,180.47 274.17,180.39 274.99,180.28 275.80,180.14 276.62,179.98 277.44,179.80 278.25,179.59 279.07,179.35 279.89,179.10 280.71,178.81 281.52,178.51 282.34,178.18 283.16,177.82 283.98,177.45 284.79,177.05 285.61,176.62 286.43,176.17 287.24,175.70 288.06,175.21 288.88,174.70 289.70,174.16 290.51,173.60 291.33,173.02 292.15,172.41 292.96,171.79 293.78,171.14 294.60,170.48 295.42,169.79 296.23,169.08 297.05,168.36 297.87,167.61 298.69,166.85 299.50,166.06 300.32,165.26 301.14,164.44 301.95,163.61 302.77,162.76 303.59,161.89 304.41,161.00 305.22,160.11 306.04,159.19 306.86,158.27 307.67,157.33 308.49,156.38 309.31,155.42 310.13,154.45 310.94,153.47 311.76,152.48 312.58,151.49 313.40,150.49 314.21,149.49 315.03,148.48 315.85,147.48 316.66,146.48 317.48,145.49 318.30,144.50 319.12,143.53 319.93,142.57 320.75,141.63 321.57,140.71 322.38,139.82 323.20,138.96 324.02,138.14 324.84,137.37 325.65,136.64 326.47,135.97 327.29,135.36 328.11,134.81 328.92,134.33 329.74,133.91 330.56,133.56 331.37,133.27 332.19,133.04 333.01,132.86 333.83,132.73 334.64,132.63 335.46,132.56 336.28,132.51 337.09,132.49 337.91,132.47 338.73,132.46 339.55,132.45 340.36,132.45 341.18,132.45 342.00,132.45 342.82,132.45 343.63,132.45 344.45,132.45" stroke="#b8c020"/>
<polyline points="197.35,132.45 198.17,132.45 198.98,132.45 199.80,132.45 200.62,132.45 201.44,132.45 202.25,132.45 203.07,132.44 203.89,132.43 204.71,132.41 205.52,132.39 206.34,132.34 207.16,132.27 207.97,132.17 208.79,132.04 209.61,131.86 210.43,131.63 211.24,131.34 212.06,130.99 212.88,130.57 213.69,130.09 214.51,129.54 215.33,128.93 216.15,128.26 216.96,127.53 217.78,126.76 218.60,125.94 219.42,125.08 220.23,124.19 221.05,123.27 221.87,122.33 222.68,121.37 223.50,120.40 224.32,119.41 225.14,118.42 225.95,117.42 226.77,116.42 227.59,115.41 228.40,114.41 229.22,113.41 230.04,112.42 230.86,111.43 231.67,110.45 232.49,109.48 233.31,108.52 234.13,107.57 234.94,106.63 235.76,105.71 236.58,104.79 237.39,103.90 238.21,103.01 239.03,102.14 239.85,101.29 240.66,100.46 241.48,99.64 242.30,98.84 243.11,98.05 243.93,97.29 244.75,96.54 245.57,95.82 246.38,95.11 247.20,94.42 248.02,93.76 248.84,93.11 249.65,92.49 250.47,91.88 251.29,91.30 252.10,90.74 252.92,90.20 253.74,89.69 254.56,89.20 255.37,88.73 256.19,88.28 257.01,87.85 257.82,87.45 258.64,87.08 259.46,86.72 260.28,86.39 261.09,86.09 261.91,85.80 262.73,85.55 263.55,85.31 264.36,85.10 265.18,84.92 266.00,84.76 266.81,84.62 267.63,84.51 268.45,84.43 269.27,84.36 270.08,84.33 270.90,84.31 271.72,84.33 272.53,84.36 273.35,84.43 274.17,84.51 274.99,84.62 275.80,84.76 276.62,84.92 277.44,85.10 278.25,85.31 279.07,85.55 279.89,85.80 280.71,86.09 281.52,86.39 282.34,86.72 283.16,87.08 283.98,87.45 284.79,87.85 285.61,88.28 286.43,88.73 287.24,89.20 288.06,89.69 288.88,90.20 289.70,90.74 290.51,91.30 291.33,91.88 292.15,92.49 292.96,93.11 293.78,93.76 294.60,94.42 295.42,95.11 296.23,95.82 297.05,96.54 297.87,97.29 298.69,98.05 299.50,98.84 300.32,99.64 301.14,100.46 301.95,101.29 302.77,102.14 303.59,103.01 304.41,103.90 305.22,104.79 306.04,105.71 306.86,106.63 307.67,107.57 308.49,108.52 309.31,109.48 310.13,110.45 310.94,111.43 311.76,112.42 312.58,113.41 313.40,114.41 314.21,115.41 315.03,116.42 315.85,117.42 316.66,118.42 317.48,119.41 318.30,120.40 319.12,121.37 319.93,122.33 320.75,123.27 321.57,124.19 322.38,125.08 323.20,125.94 324.02,126.76 324.84,127.53 325.65,128.26 326.47,128.93 327.29,129.54 328.11,130.09 328.92,130.57 329.74,130.99 330.56,131.34 331.37,131.63 332.19,131.86 333.01,132.04 333.83,132.17 334.64,132.27 335.46,132.34 336.28,132.39 337.09,132.41 337.91,132.43 338.73,132.44 339.55,132.45 340.36,132.45 341.18,132.45 342.00,132.45 342.82,132.45 343.63,132.45 344.45,132.45" stroke="#404040"/>
<polyline points="197.35,90.47 198.17,91.73 198.98,92.97 199.80,94.19 200.62,95.38 201.44,96.54 202.25,97.67 203.07,98.76 203.89,99.81 204.71,100.81 205.52,101.76 206.34,102.64 207.16,103.45 207.97,104.19 208.79,104.85 209.61,105.41 210.43,105.88 211.24,106.24 212.06,106.51 212.88,106.66 213.69,106.71 214.51,106.66 215.33,106.52 216.15,106.28 216.96,105.96 217.78,105.56 218.60,105.09 219.42,104.56 220.23,103.98 221.05,103.35 221.87,102.68 222.68,101.97 223.50,101.23 224.32,100.47 225.14,99.68 225.95,98.88 226.77,98.06 227.59,97.23 228.40,96.39 229.22,95.55 230.04,94.70 230.86,93.85 231.67,93.00 232.49,92.16 233.31,91.31 234.13,90.47 234.94,89.64 235.76,88.81 236.58,87.99 237.39,87.18 238.21,86.38 239.03,85.59 239.85,84.82 240.66,84.05 241.48,83.30 242.30,82.57 243.11,81.85 243.93,81.14 244.75,80.45 245.57,79.78 246.38,79.12 247.20,78.49 248.02,77.86 248.84,77.26 249.65,76.68 250.47,76.11 251.29,75.57 252.10,75.04 252.92,74.54 253.74,74.05 254.56,73.59 255.37,73.15 256.19,72.73 257.01,72.33 257.82,71.95 258.64,71.59 259.46,71.26 260.28,70.95 261.09,70.66 261.91,70.39 262.73,70.15 263.55,69.92 264.36,69.73 265.18,69.55 266.00,69.40 266.81,69.27 267.63,69.16 268.45,69.08 269.27,69.02 270.08,68.99 270.90,68.98 271.72,68.99 272.53,69.02 273.35,69.08 274.17,69.16 274.99,69.27 275.80,69.40 276.62,69.55 277.44,69.73 278.25,69.92 279.07,70.15 279.89,70.39 280.71,70.66 281.52,70.95 282.34,71.26 283.16,71.59 283.98,71.95 284.79,72.33 285.61,72.73 286.43,73.15 287.24,73.59 288.06,74.05 288.88,74.54 289.70,75.04 290.51,75.57 291.33,76.11 292.15,76.68 292.96,77.26 293.78,77.86 294.60,78.49 295.42,79.12 296.23,79.78 297.05,80.45 297.87,81.14 298.69,81.85 299.50,82.57 300.32,83.30 301.14,84.05 301.95,84.82 302.77,85.59 303.59,86.38 304.41,87.18 305.22,87.99 306.04,88.81 306.86,89.64 307.67,90.47 308.49,91.31 309.31,92.16 310.13,93.00 310.94,93.85 311.76,94.70 312.58,95.55 313.40,96.39 314.21,97.23 315.03,98.06 315.85,98.88 316.66,99.68 317.48,100.47 318.30,101.23 319.12,101.97 319.93,102.68 320.75,103.35 321.57,103.98 322.38,104.56 323.20,105.09 324.02,105.56 324.84,105.96 325.65,106.28 326.47,106.52 327.29,106.66 328.11,106.71 328.92,106.66 329.74,106.51 330.56,106.24 331.37,105.88 332.19,105.41 333.01,104.85 333.83,104.19 334.64,103.45 335.46,102.64 336.28,101.76 337.09,100.81 337.91,99.81 338.73,98.76 339.55,97.67 340.36,96.54 341.18,95.38 342.00,94.19 342.82,92.97 343.63,91.73 344.45,90.47" stroke="#1010e6"/>
<polyline points="197.35,90.47 198.17,91.18 198.98,91.83 199.80,92.42 200.62,92.95 201.44,93.42 202.25,93.82 203.07,94.14 203.89,94.40 204.71,94.58 205.52,94.69 206.34,94.72 207.16,94.68 207.97,94.57 208.79,94.38 209.61,94.13 210.43,93.82 211.24,93.45 212.06,93.01 212.88,92.53 213.69,92.00 214.51,91.42 215.33,90.80 216.15,90.14 216.96,89.44 217.78,88.72 218.60,87.97 219.42,87.20 220.23,86.40 221.05,85.59 221.87,84.76 222.68,83.91 223.50,83.06 224.32,82.19 225.14,81.32 225.95,80.45 226.77,79.57 227.59,78.68 228.40,77.80 229.22,76.92 230.04,76.04 230.86,75.16 231.67,74.29 232.49,73.43 233.31,72.57 234.13,71.71 234.94,70.87 235.76,70.04 236.58,69.21 237.39,68.40 238.21,67.60 239.03,66.81 239.85,66.04 240.66,65.27 241.48,64.53 242.30,63.79 243.11,63.07 243.93,62.37 244.75,61.69 245.57,61.02 246.38,60.37 247.20,59.73 248.02,59.12 248.84,58.52 249.65,57.94 250.47,57.38 251.29,56.84 252.10,56.32 252.92,55.82 253.74,55.34 254.56,54.88 255.37,54.44 256.19,54.03 257.01,53.63 257.82,53.26 258.64,52.90 259.46,52.57 260.28,52.26 261.09,51.98 261.91,51.71 262.73,51.47 263.55,51.25 264.36,51.06 265.18,50.88 266.00,50.73 266.81,50.60 267.63,50.50 268.45,50.42 269.27,50.36 270.08,50.33 270.90,50.31 271.72,50.33 272.53,50.36 273.35,50.42 274.17,50.50 274.99,50.60 275.80,50.73 276.62,50.88 277.44,51.06 278.25,51.25 279.07,51.47 279.89,51.71 280.71,51.98 281.52,52.26 282.34,52.57 283.16,52.90 283.98,53.26 284.79,53.63 285.61,54.03 286.43,54.44 287.24,54.88 288.06,55.34 288.88,55.82 289.70,56.32 290.51,56.84 291.33,57.38 292.15,57.94 292.96,58.52 293.78,59.12 294.60,59.73 295.42,60.37 296.23,61.02 297.05,61.69 297.87,62.37 298.69,63.07 299.50,63.79 300.32,64.53 301.14,65.27 301.95,66.04 302.77,66.81 303.59,67.60 304.41,68.40 305.22,69.21 306.04,70.04 306.86,70.87 307.67,71.71 308.49,72.57 309.31,73.43 310.13,74.29 310.94,75.16 311.76,76.04 312.58,76.92 313.40,77.80 314.21,78.68 315.03,79.57 315.85,80.45 316.66,81.32 317.48,82.19 318.30,83.06 319.12,83.91 319.93,84.76 320.75,85.59 321.57,86.40 322.38,87.20 323.20,87.97 324.02,88.72 324.84,89.44 325.65,90.14 326.47,90.80 327.29,91.42 328.11,92.00 328.92,92.53 329.74,93.01 330.56,93.45 331.37,93.82 332.19,94.13 333.01,94.38 333.83,94.57 334.64,94.68 335.46,94.72 336.28,94.69 337.09,94.58 337.91,94.40 338.73,94.14 339.55,93.82 340.36,93.42 341.18,92.95 342.00,92.42 342.82,91.83 343.63,91.18 344.45,90.47" stroke="#0c800c"/>
<polyline points="197.35,90.47 198.17,90.44 198.98,90.33 199.80,90.17 200.62,89.93 201.44,89.63 202.25,89.27 203.07,88.85 203.89,88.37 204.71,87.84 205.52,87.26 206.34,86.64 207.16,85.97 207.97,85.25 208.79,84.50 209.61,83.72 210.43,82.91 211.24,82.06 212.06,81.20 212.88,80.30 213.69,79.39 214.51,78.46 215.33,77.52 216.15,76.56 216.96,75.58 217.78,74.60 218.60,73.61 219.42,72.62 220.23,71.62 221.05,70.61 221.87,69.61 222.68,68.60 223.50,67.59 224.32,66.59 225.14,65.58 225.95,64.58 226.77,63.59 227.59,62.60 228.40,61.62 229.22,60.64 230.04,59.68 230.86,58.72 231.67,57.77 232.49,56.83 233.31,55.91 234.13,54.99 234.94,54.09 235.76,53.20 236.58,52.32 237.39,51.46 238.21,50.61 239.03,49.78 239.85,48.96 240.66,48.16 241.48,47.38 242.30,46.61 243.11,45.86 243.93,45.13 244.75,44.41 245.57,43.71 246.38,43.04 247.20,42.38 248.02,41.74 248.84,41.12 249.65,40.52 250.47,39.94 251.29,39.38 252.10,38.85 252.92,38.33 253.74,37.83 254.56,37.36 255.37,36.91 256.19,36.48 257.01,36.07 257.82,35.69 258.64,35.32 259.46,34.98 260.28,34.66 261.09,34.37 261.91,34.10 262.73,33.85 263.55,33.63 264.36,33.42 265.18,33.25 266.00,33.09 266.81,32.96 267.63,32.85 268.45,32.77 269.27,32.71 270.08,32.68 270.90,32.66 271.72,32.68 272.53,32.71 273.35,32.77 274.17,32.85 274.99,32.96 275.80,33.09 276.62,33.25 277.44,33.42 278.25,33.63 279.07,33.85 279.89,34.10 280.71,34.37 281.52,34.66 282.34,34.98 283.16,35.32 283.98,35.69 284.79,36.07 285.61,36.48 286.43,36.91 287.24,37.36 288.06,37.83 288.88,38.33 289.70,38.85 290.51,39.38 291.33,39.94 292.15,40.52 292.96,41.12 293.78,41.74 294.60,42.38 295.42,43.04 296.23,43.71 297.05,44.41 297.87,45.13 298.69,45.86 299.50,46.61 300.32,47.38 301.14,48.16 301.95,48.96 302.77,49.78 303.59,50.61 304.41,51.46 305.22,52.32 306.04,53.20 306.86,54.09 307.67,54.99 308.49,55.91 309.31,56.83 310.13,57.77 310.94,58.72 311.76,59.68 312.58,60.64 313.40,61.62 314.21,62.60 315.03,63.59 315.85,64.58 316.66,65.58 317.48,66.59 318.30,67.59 319.12,68.60 319.93,69.61 320.75,70.61 321.57,71.62 322.38,72.62 323.20,73.61 324.02,74.60 324.84,75.58 325.65,76.56 326.47,77.52 327.29,78.46 328.11,79.39 328.92,80.30 329.74,81.20 330.56,82.06 331.37,82.91 332.19,83.72 333.01,84.50 333.83,85.25 334.64,85.97 335.46,86.64 336.28,87.26 337.09,87.84 337.91,88.37 338.73,88.85 339.55,89.27 340.36,89.63 341.18,89.93 342.00,90.17 342.82,90.33 343.63,90.44 344.45,90.47" stroke="#e61010"/>
<polyline points="197.35,90.47 198.17,89.71 198.98,88.91 199.80,88.06 200.62,87.17 201.44,86.24 202.25,85.28 203.07,84.30 203.89,83.28 204.71,82.24 205.52,81.17 206.34,80.09 207.16,78.99 207.97,77.88 208.79,76.75 209.61,75.61 210.43,74.46 211.24,73.30 212.06,72.14 212.88,70.97 213.69,69.79 214.51,68.62 215.33,67.44 216.15,66.27 216.96,65.09 217.78,63.92 218.60,62.75 219.42,61.58 220.23,60.42 221.05,59.26 221.87,58.11 222.68,56.96 223.50,55.83 224.32,54.70 225.14,53.58 225.95,52.47 226.77,51.37 227.59,50.29 228.40,49.21 229.22,48.14 230.04,47.09 230.86,46.05 231.67,45.03 232.49,44.02 233.31,43.02 234.13,42.04 234.94,41.07 235.76,40.12 236.58,39.19 237.39,38.27 238.21,37.37 239.03,36.49 239.85,35.63 240.66,34.78 241.48,33.95 242.30,33.14 243.11,32.35 243.93,31.58 244.75,30.83 245.57,30.10 246.38,29.39 247.20,28.70 248.02,28.03 248.84,27.38 249.65,26.76 250.47,26.15 251.29,25.57 252.10,25.01 252.92,24.47 253.74,23.96 254.56,23.46 255.37,22.99 256.19,22.55 257.01,22.12 257.82,21.72 258.64,21.34 259.46,20.99 260.28,20.66 261.09,20.36 261.91,20.08 262.73,19.82 263.55,19.59 264.36,19.38 265.18,19.19 266.00,19.03 266.81,18.90 267.63,18.79 268.45,18.70 269.27,18.64 270.08,18.60 270.90,18.59 271.72,18.60 272.53,18.64 273.35,18.70 274.17,18.79 274.99,18.90 275.80,19.03 276.62,19.19 277.44,19.38 278.25,19.59 279.07,19.82 279.89,20.08 280.71,20.36 281.52,20.66 282.34,20.99 283.16,21.34 283.98,21.72 284.79,22.12 285.61,22.55 286.43,22.99 287.24,23.46 288.06,23.96 288.88,24.47 289.70,25.01 290.51,25.57 291.33,26.15 292.15,26.76 292.96,27.38 293.78,28.03 294.60,28.70 295.42,29.39 296.23,30.10 297.05,30.83 297.87,31.58 298.69,32.35 299.50,33.14 300.32,33.95 301.14,34.78 301.95,35.63 302.77,36.49 303.59,37.37 304.41,38.27 305.22,39.19 306.04,40.12 306.86,41.07 307.67,42.04 308.49,43.02 309.31,44.02 310.13,45.03 310.94,46.05 311.76,47.09 312.58,48.14 313.40,49.21 314.21,50.29 315.03,51.37 315.85,52.47 316.66,53.58 317.48,54.70 318.30,55.83 319.12,56.96 319.93,58.11 320.75,59.26 321.57,60.42 322.38,61.58 323.20,62.75 324.02,63.92 324.84,65.09 325.65,66.27 326.47,67.44 327.29,68.62 328.11,69.79 328.92,70.97 329.74,72.14 330.56,73.30 331.37,74.46 332.19,75.61 333.01,76.75 333.83,77.88 334.64,78.99 335.46,80.09 336.28,81.17 337.09,82.24 337.91,83.28 338.73,84.30 339.55,85.28 340.36,86.24 341.18,87.17 342.00,88.06 342.82,88.91 343.63,89.71 344.45,90.47" stroke="#18b8b8"/>
<polyline points="197.35,90.47 198.17,89.19 198.98,87.90 199.80,86.60 200.62,85.28 201.44,83.96 202.25,82.62 203.07,81.29 203.89,79.94 204.71,78.59 205.52,77.24 206.34,75.89 207.16,74.54 207.97,73.19 208.79,71.84 209.61,70.49 210.43,69.14 211.24,67.80 212.06,66.46 212.88,65.12 213.69,63.79 214.51,62.47 215.33,61.16 216.15,59.85 216.96,58.54 217.78,57.25 218.60,55.97 219.42,54.69 220.23,53.43 221.05,52.17 221.87,50.93 222.68,49.70 223.50,48.48 224.32,47.27 225.14,46.07 225.95,44.89 226.77,43.72 227.59,42.57 228.40,41.43 229.22,40.30 230.04,39.19 230.86,38.10 231.67,37.02 232.49,35.96 233.31,34.91 234.13,33.88 234.94,32.87 235.76,31.88 236.58,30.90 237.39,29.95 238.21,29.01 239.03,28.09 239.85,27.19 240.66,26.31 241.48,25.45 242.30,24.61 243.11,23.79 243.93,22.99 244.75,22.22 245.57,21.46 246.38,20.72 247.20,20.01 248.02,19.32 248.84,18.65 249.65,18.01 250.47,17.38 251.29,16.78 252.10,16.20 252.92,15.65 253.74,15.12 254.56,14.61 255.37,14.12 256.19,13.66 257.01,13.23 257.82,12.82 258.64,12.43 259.46,12.07 260.28,11.73 261.09,11.41 261.91,11.12 262.73,10.86 263.55,10.62 264.36,10.41 265.18,10.22 266.00,10.05 266.81,9.91 267.63,9.80 268.45,9.71 269.27,9.65 270.08,9.61 270.90,9.60 271.72,9.61 272.53,9.65 273.35,9.71 274.17,9.80 274.99,9.91 275.80,10.05 276.62,10.22 277.44,10.41 278.25,10.62 279.07,10.86 279.89,11.12 280.71,11.41 281.52,11.73 282.34,12.07 283.16,12.43 283.98,12.82 284.79,13.23 285.61,13.66 286.43,14.12 287.24,14.61 288.06,15.12 288.88,15.65 289.70,16.20 290.51,16.78 291.33,17.38 292.15,18.01 292.96,18.65 293.78,19.32 294.60,20.01 295.42,20.72 296.23,21.46 297.05,22.22 297.87,22.99 298.69,23.79 299.50,24.61 300.32,25.45 301.14,26.31 301.95,27.19 302.77,28.09 303.59,29.01 304.41,29.95 305.22,30.90 306.04,31.88 306.86,32.87 307.67,33.88 308.49,34.91 309.31,35.96 310.13,37.02 310.94,38.10 311.76,39.19 312.58,40.30 313.40,41.43 314.21,42.57 315.03,43.72 315.85,44.89 316.66,46.07 317.48,47.27 318.30,48.48 319.12,49.70 319.93,50.93 320.75,52.17 321.57,53.43 322.38,54.69 323.20,55.97 324.02,57.25 324.84,58.54 325.65,59.85 326.47,61.16 327.29,62.47 328.11,63.79 328.92,65.12 329.74,66.46 330.56,67.80 331.37,69.14 332.19,70.49 333.01,71.84 333.83,73.19 334.64,74.54 335.46,75.89 336.28,77.24 337.09,78.59 337.91,79.94 338.73,81.29 339.55,82.62 340.36,83.96 341.18,85.28 342.00,86.60 342.82,87.90 343.63,89.19 344.45,90.47" stroke="#b414c0"/>
</g>
<g stroke="#111" stroke-width="1" fill="none">
<rect x="33.5" y="7.5" width="319" height="251"/>
<line x1="190.5" y1="7.5" x2="190.5" y2="258.5"/>
</g>
<g stroke="#555" stroke-width="1" fill="none">
<path d="M34 38.4H36.3M187 38.4H190"/>
<path d="M34 69.7H36.3M187 69.7H190"/>
<path d="M34 100.7H36.3M187 100.7H190"/>
<path d="M34 132.4H36.3M187 132.4H190"/>
<path d="M34 164.2H36.3M187 164.2H190"/>
<path d="M34 195.3H36.3M187 195.3H190"/>
<path d="M34 226.9H36.3M187 226.9H190"/>
<path d="M112.5 258V255M112.5 8V10.5M271.5 258V255M271.5 8V10.5"/>
</g>
<g font-size="11">
<text x="29.5" y="11.0" text-anchor="end">8</text>
<text x="29.5" y="41.7" text-anchor="end">6</text>
<text x="29.5" y="73.6" text-anchor="end">4</text>
<text x="29.5" y="104.9" text-anchor="end">2</text>
<text x="29.5" y="136.6" text-anchor="end">0</text>
<text x="29.5" y="168.1" text-anchor="end">-2</text>
<text x="29.5" y="199.2" text-anchor="end">-4</text>
<text x="29.5" y="230.8" text-anchor="end">-6</text>
<text x="29.5" y="262.3" text-anchor="end">-8</text>
<text x="31.4" y="271.2" text-anchor="middle">-2</text>
<text x="112.2" y="271.2" text-anchor="middle">0</text>
<text x="190.25" y="271.2" text-anchor="middle">2</text>
<text x="271.15" y="271.2" text-anchor="middle">0</text>
<text x="352" y="271.2" text-anchor="middle">2</text>
</g>
<text font-size="13.3" transform="translate(12.2,134.35) rotate(-90)" text-anchor="middle">Energy (eV)</text>
<text font-size="13.3" y="286.6"><tspan x="101.3">Reduced</tspan><tspan x="161.9" textLength="34.6" lengthAdjust="spacingAndGlyphs">wave</tspan><tspan x="200.3">number</tspan><tspan x="254.2">ka</tspan><tspan font-size="10" dy="6.3">CC</tspan></text>
<text font-size="13" x="81.8" y="136.3">N<tspan font-size="11" dy="6.6">z-line</tspan><tspan dy="-6.6" word-spacing="1" stroke="#000" stroke-width="0.4"> = </tspan><tspan font-family="Liberation Serif" x="135.9" stroke="#000" stroke-width="0.3">5</tspan></text>
<text font-size="13" x="242.6" y="136.6">N<tspan font-size="11" dy="6.6">z-line</tspan><tspan dy="-6.6" word-spacing="1.3" stroke="#000" stroke-width="0.4"> = </tspan><tspan font-family="Liberation Serif" x="297.1" y="136.3" stroke="#000" stroke-width="0.3">6</tspan></text>
</svg>
</body></html>
